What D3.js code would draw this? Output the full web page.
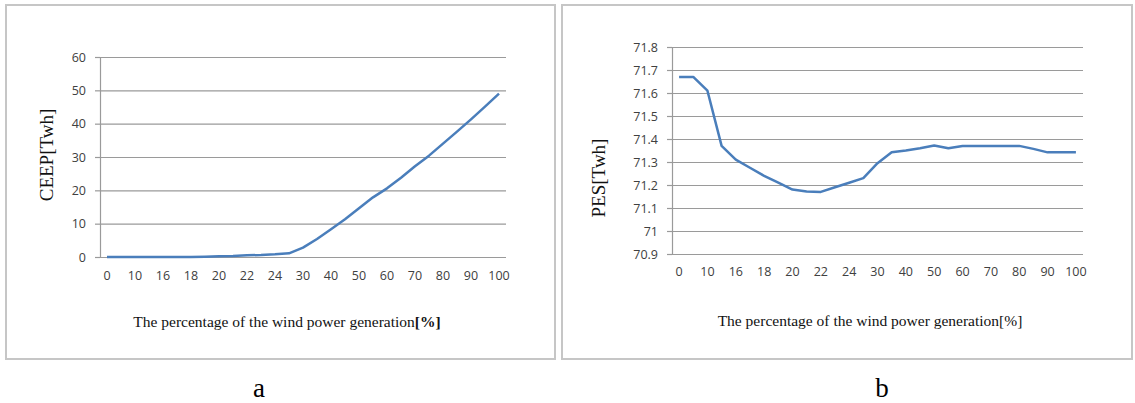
<!DOCTYPE html>
<html>
<head>
<meta charset="utf-8">
<script src="https://cdn.jsdelivr.net/npm/d3@7"></script>
<style>
  body { margin: 0; background: #fff; }
  svg { display: block; }
</style>
</head>
<body>
<svg id="drawing_region"></svg>
<script>
// categories on the x axis (only every second one gets a label)
const categories = ["0", "5", "10", "13", "16", "17", "18", "19", "20", "21", "22", "23", "24", "27",
                    "30", "35", "40", "45", "50", "55", "60", "65", "70", "75", "80", "85", "90", "95", "100"];

// chart a : CEEP [Twh]
const ceepValues = [0, 0, 0, 0, 0, 0, 0, 0.1, 0.2, 0.3, 0.5, 0.6, 0.8, 1.1,
                    2.8, 5.4, 8.3, 11.3, 14.6, 17.9, 20.6, 23.8, 27.2, 30.4, 34.0, 37.6, 41.3, 45.1, 49.0];
const ceepTicks = [0, 10, 20, 30, 40, 50, 60];

// chart b : PES [Twh]
const pesValues = [71.67, 71.67, 71.61, 71.37, 71.31, 71.275, 71.24, 71.21, 71.18, 71.172, 71.17, 71.19, 71.21, 71.23,
                   71.295, 71.342, 71.35, 71.36, 71.372, 71.36, 71.37, 71.37, 71.37, 71.37, 71.37, 71.357, 71.342, 71.342, 71.342];
const pesTicks = [70.9, 71, 71.1, 71.2, 71.3, 71.4, 71.5, 71.6, 71.7, 71.8];

const svg = d3.select("#drawing_region")
    .attr("width", 1135)
    .attr("height", 403);

function drawPanel(cfg, values, ticks) {
    // outer frame
    svg.append("rect")
        .attr("x", cfg.frame[0]).attr("y", cfg.frame[1])
        .attr("width", cfg.frame[2] - cfg.frame[0]).attr("height", cfg.frame[3] - cfg.frame[1])
        .attr("fill", "none").attr("stroke", "#c6c6c6").attr("stroke-width", 2);

    const x = d3.scaleBand().domain(categories).range([cfg.left, cfg.right]);
    const y = d3.scaleLinear().domain(cfg.yDomain).range([cfg.bottom, cfg.top]);

    // gridlines
    const grid = svg.append("g")
        .attr("transform", `translate(${cfg.left},0)`)
        .call(d3.axisLeft(y).tickValues(ticks).tickSize(-(cfg.right - cfg.left)).tickFormat(""));
    grid.select(".domain").remove();
    grid.selectAll("line").attr("stroke", "#9a9a9a").attr("stroke-width", 1.2);

    // y axis with small tick marks
    const yAxis = svg.append("g")
        .attr("transform", `translate(${cfg.left},0)`)
        .call(d3.axisLeft(y).tickValues(ticks).tickSize(5).tickPadding(9)
            .tickFormat(d => String(+d.toFixed(1))));
    yAxis.select(".domain").attr("stroke", "#9a9a9a").attr("stroke-width", 1.2);
    yAxis.selectAll("line").attr("stroke", "#9a9a9a").attr("stroke-width", 1.2);
    yAxis.selectAll("text")
        .attr("fill", "#404040")
        .style("font-family", "'Open Sans', sans-serif")
        .style("font-size", "12.5px");

    // x axis labels
    const xAxis = svg.append("g")
        .attr("transform", `translate(0,${cfg.bottom})`)
        .call(d3.axisBottom(x).tickValues(categories.filter((c, i) => i % 2 === 0))
            .tickSize(0).tickPadding(cfg.xPad));
    xAxis.select(".domain").remove();
    xAxis.selectAll("text")
        .attr("fill", "#404040")
        .style("font-family", "'Open Sans', sans-serif")
        .style("font-size", "12.5px");

    // the series line
    const line = d3.line()
        .x((d, i) => x(categories[i]) + x.bandwidth() / 2)
        .y(d => y(d));
    svg.append("path")
        .datum(values)
        .attr("d", line)
        .attr("fill", "none")
        .attr("stroke", "#4a7ebb")
        .attr("stroke-width", 2.5)
        .attr("stroke-linejoin", "round");

    // axis titles
    const xt = svg.append("text")
        .attr("x", cfg.xTitle[0]).attr("y", cfg.xTitle[1])
        .attr("text-anchor", "middle")
        .attr("fill", "#111")
        .style("font-family", "'Liberation Serif', 'Times New Roman', serif")
        .style("font-size", "15.5px");
    xt.append("tspan").text("The percentage of the wind power generation");
    xt.append("tspan").attr("font-weight", cfg.boldPct ? "bold" : "normal").text("[%]");

    svg.append("text")
        .attr("transform", `translate(${cfg.yTitle[0]},${cfg.yTitle[1]}) rotate(-90)`)
        .attr("text-anchor", "middle")
        .attr("dominant-baseline", "central")
        .attr("fill", "#111")
        .style("font-family", "'Liberation Serif', 'Times New Roman', serif")
        .style("font-size", "19px")
        .text(cfg.yLabel);

    // panel letter
    svg.append("text")
        .attr("x", cfg.letter[0]).attr("y", 397)
        .attr("text-anchor", "middle")
        .attr("fill", "#000")
        .style("font-family", "'Liberation Serif', 'Times New Roman', serif")
        .style("font-size", "27px")
        .text(cfg.letterText);
}

drawPanel({
    frame: [6, 5, 555, 359],
    left: 100, right: 506, top: 57, bottom: 257,
    yDomain: [0, 60], xPad: 14,
    xTitle: [287, 327], yTitle: [46, 155], yLabel: "CEEP[Twh]",
    boldPct: true, letter: [259], letterText: "a"
}, ceepValues, ceepTicks);

drawPanel({
    frame: [562, 5, 1132, 359],
    left: 672, right: 1083, top: 47, bottom: 254,
    yDomain: [70.9, 71.8], xPad: 13,
    xTitle: [870, 326], yTitle: [598, 178], yLabel: "PES[Twh]",
    boldPct: false, letter: [882], letterText: "b"
}, pesValues, pesTicks);
</script>
</body>
</html>
